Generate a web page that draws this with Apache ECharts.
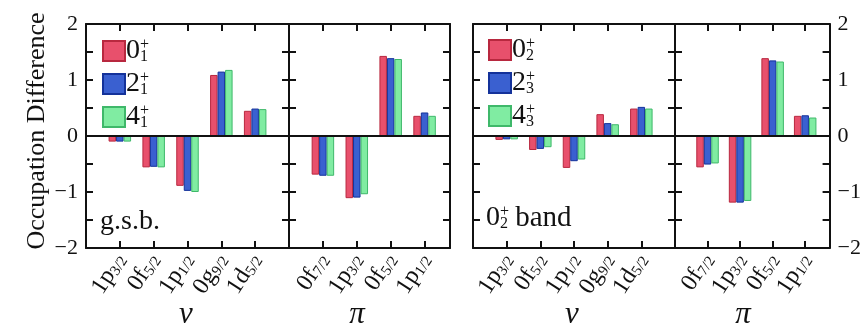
<!DOCTYPE html>
<html>
<head>
<meta charset="utf-8">
<script src="https://cdn.jsdelivr.net/npm/echarts@6/dist/echarts.min.js"></script>
<style>
html,body{margin:0;padding:0;background:#fff;}
#chart{width:864px;height:326px;}
</style>
</head>
<body>
<div id="chart"></div>
<script>
// ---- data ----
const nuOrb = ['1p', '0f', '1p', '0g', '1d'];
const nuJ = ['3/2', '5/2', '1/2', '9/2', '5/2'];
const piOrb = ['0f', '1p', '0f', '1p'];
const piJ = ['7/2', '3/2', '5/2', '1/2'];
const yTicks = [-2, -1, 0, 1, 2];

const gsbNames = ['0_1', '2_1', '4_1'];
const bandNames = ['0_2', '2_3', '4_3'];

// g.s.b. (0+1, 2+1, 4+1)
const gsbNu0 = [-0.10, -0.56, -0.89, 1.09, 0.45];
const gsbNu2 = [-0.10, -0.55, -0.98, 1.15, 0.49];
const gsbNu4 = [-0.10, -0.56, -1.00, 1.18, 0.48];
const gsbPi0 = [-0.69, -1.11, 1.43, 0.36];
const gsbPi2 = [-0.71, -1.10, 1.39, 0.42];
const gsbPi4 = [-0.71, -1.04, 1.375, 0.36];
// 0+2 band (0+2, 2+3, 4+3)
const bandNu0 = [-0.07, -0.25, -0.57, 0.39, 0.49];
const bandNu2 = [-0.06, -0.23, -0.45, 0.23, 0.52];
const bandNu4 = [-0.06, -0.20, -0.42, 0.21, 0.49];
const bandPi0 = [-0.56, -1.19, 1.39, 0.36];
const bandPi2 = [-0.51, -1.19, 1.35, 0.37];
const bandPi4 = [-0.49, -1.16, 1.33, 0.33];

// ---- styles ----
const FONT = '"Liberation Serif", "DejaVu Serif", serif';
const colors = [
  { fill: '#e8506c', border: '#b8283f' },
  { fill: '#3a60d0', border: '#14329a' },
  { fill: '#80eca2', border: '#3fb86a' }
];
const frame = { color: '#111', width: 2 };

const panels = [
  { grid: { left: 86, top: 24, width: 203, height: 224 }, orb: nuOrb, j: nuJ, max: 6, sets: [gsbNu0, gsbNu2, gsbNu4], names: gsbNames, leftLabels: true, rightLabels: false },
  { grid: { left: 289, top: 24, width: 161, height: 224 }, orb: piOrb, j: piJ, max: 4.75, sets: [gsbPi0, gsbPi2, gsbPi4], names: gsbNames, leftLabels: false, rightLabels: false },
  { grid: { left: 473, top: 24, width: 202, height: 224 }, orb: nuOrb, j: nuJ, max: 6, sets: [bandNu0, bandNu2, bandNu4], names: bandNames, leftLabels: false, rightLabels: false },
  { grid: { left: 675, top: 24, width: 162, height: 224 }, orb: piOrb, j: piJ, max: 4.75, sets: [bandPi0, bandPi2, bandPi4], names: bandNames, leftLabels: false, rightLabels: true }
];

const labelRich = {
  a: { fontFamily: FONT, fontSize: 24, color: '#111', lineHeight: 26, verticalAlign: 'bottom' },
  b: { fontFamily: FONT, fontSize: 15, color: '#111', lineHeight: 15, verticalAlign: 'bottom' }
};

function yFmt(v) {
  if (!yTicks.includes(v)) return '';
  return v < 0 ? '\u2212' + (-v) : String(v);
}

const grids = [], xAxes = [], yAxes = [], series = [];
panels.forEach((p, g) => {
  grids.push(Object.assign({ containLabel: false }, p.grid));
  const n = p.orb.length;
  xAxes.push({
    type: 'value', gridIndex: g, min: 0, max: p.max, interval: 1, position: 'bottom',
    axisLine: { onZero: false, lineStyle: frame },
    axisTick: { inside: true, length: 7, lineStyle: { color: '#111', width: 2 } },
    splitLine: { show: false },
    axisLabel: {
      rotate: 57, margin: 7, color: '#111',
      formatter: v => (Number.isInteger(v) && v >= 1 && v <= n) ? '{a|' + p.orb[v - 1] + '}{b|' + p.j[v - 1] + '}' : '',
      rich: labelRich
    }
  });
  xAxes.push({
    type: 'value', gridIndex: g, min: 0, max: p.max, interval: 1, position: 'top',
    axisLine: { onZero: false, lineStyle: frame },
    axisTick: { inside: true, length: 7, lineStyle: { color: '#111', width: 2 } },
    splitLine: { show: false }, axisLabel: { show: false }
  });
  ['left', 'right'].forEach(pos => {
    const show = pos === 'left' ? p.leftLabels : p.rightLabels;
    yAxes.push({
      type: 'value', gridIndex: g, min: -2, max: 2, interval: 0.5, position: pos,
      axisLine: { onZero: false, lineStyle: frame },
      axisTick: { inside: true, length: 7, lineStyle: { color: '#111', width: 2 } },
      splitLine: { show: false },
      axisLabel: { show: show, formatter: yFmt, fontFamily: FONT, fontSize: 22, color: '#111', margin: 8 }
    });
  });
  p.sets.forEach((vals, k) => {
    const s = {
      type: 'bar', name: p.names[k], xAxisIndex: g * 2, yAxisIndex: g * 2,
      data: vals.map((v, i) => [i + 1, v]),
      barWidth: 7.5, barGap: '0%',
      itemStyle: { color: colors[k].fill, borderColor: colors[k].border, borderWidth: 1 },
      emphasis: { disabled: true },
      animation: false
    };
    if (k === 0) {
      s.markLine = {
        silent: true, symbol: 'none', label: { show: false },
        lineStyle: { color: '#111', width: 2, type: 'solid' },
        data: [{ yAxis: 0 }], animation: false
      };
    }
    series.push(s);
  });
});

const legRich = {
  n: { fontFamily: FONT, fontSize: 28, color: '#111', lineHeight: 28 },
  p: { fontFamily: FONT, fontSize: 16, color: '#111', lineHeight: 16, verticalAlign: 'top', width: 0, align: 'left' },
  s: { fontFamily: FONT, fontSize: 16, color: '#111', lineHeight: 16, verticalAlign: 'bottom' }
};
function legFmt(name) {
  const parts = name.split('_');
  return '{n|' + parts[0] + '}{p|+}{s|' + parts[1] + '}';
}
function legend(names, left, top) {
  return {
    data: names, orient: 'vertical', left: left, top: top, padding: 0,
    itemWidth: 22, itemHeight: 20, itemGap: 5, icon: 'rect',
    selectedMode: false, formatter: legFmt,
    textStyle: { rich: legRich, padding: [0, 0, 0, -4] }
  };
}

const option = {
  animation: false,
  grid: grids,
  xAxis: xAxes,
  yAxis: yAxes,
  series: series,
  legend: [legend(gsbNames, 102, 37), legend(bandNames, 488, 36)],
  graphic: [
    { type: 'text', x: 37, y: 131, rotation: Math.PI / 2,
      style: { text: 'Occupation Difference', font: '26px ' + FONT, fill: '#111', align: 'center', verticalAlign: 'middle' } },
    { type: 'text', x: 100, y: 222,
      style: { text: 'g.s.b.', font: '28px ' + FONT, fill: '#111', align: 'left', verticalAlign: 'middle' } },
    { type: 'text', x: 486, y: 218,
      style: { text: '{n|0}{p|+}{s|2}{t| band}', fill: '#111', align: 'left', verticalAlign: 'middle',
        rich: {
          n: { fontFamily: FONT, fontSize: 28, lineHeight: 28 },
          t: { fontFamily: FONT, fontSize: 29, lineHeight: 28 },
          p: { fontFamily: FONT, fontSize: 16, lineHeight: 16, verticalAlign: 'top', width: 0, align: 'left' },
          s: { fontFamily: FONT, fontSize: 16, lineHeight: 16, verticalAlign: 'bottom' }
        } } },
    { type: 'text', x: 186, y: 315, style: { text: '\u03bd', font: 'italic 31px ' + FONT, fill: '#111', align: 'center', verticalAlign: 'middle' } },
    { type: 'text', x: 357, y: 315, style: { text: '\u03c0', font: 'italic 31px ' + FONT, fill: '#111', align: 'center', verticalAlign: 'middle' } },
    { type: 'text', x: 572, y: 315, style: { text: '\u03bd', font: 'italic 31px ' + FONT, fill: '#111', align: 'center', verticalAlign: 'middle' } },
    { type: 'text', x: 743, y: 315, style: { text: '\u03c0', font: 'italic 31px ' + FONT, fill: '#111', align: 'center', verticalAlign: 'middle' } }
  ]
};

const chart = echarts.init(document.getElementById('chart'), null, { renderer: 'canvas' });
chart.setOption(option);
</script>
</body>
</html>
